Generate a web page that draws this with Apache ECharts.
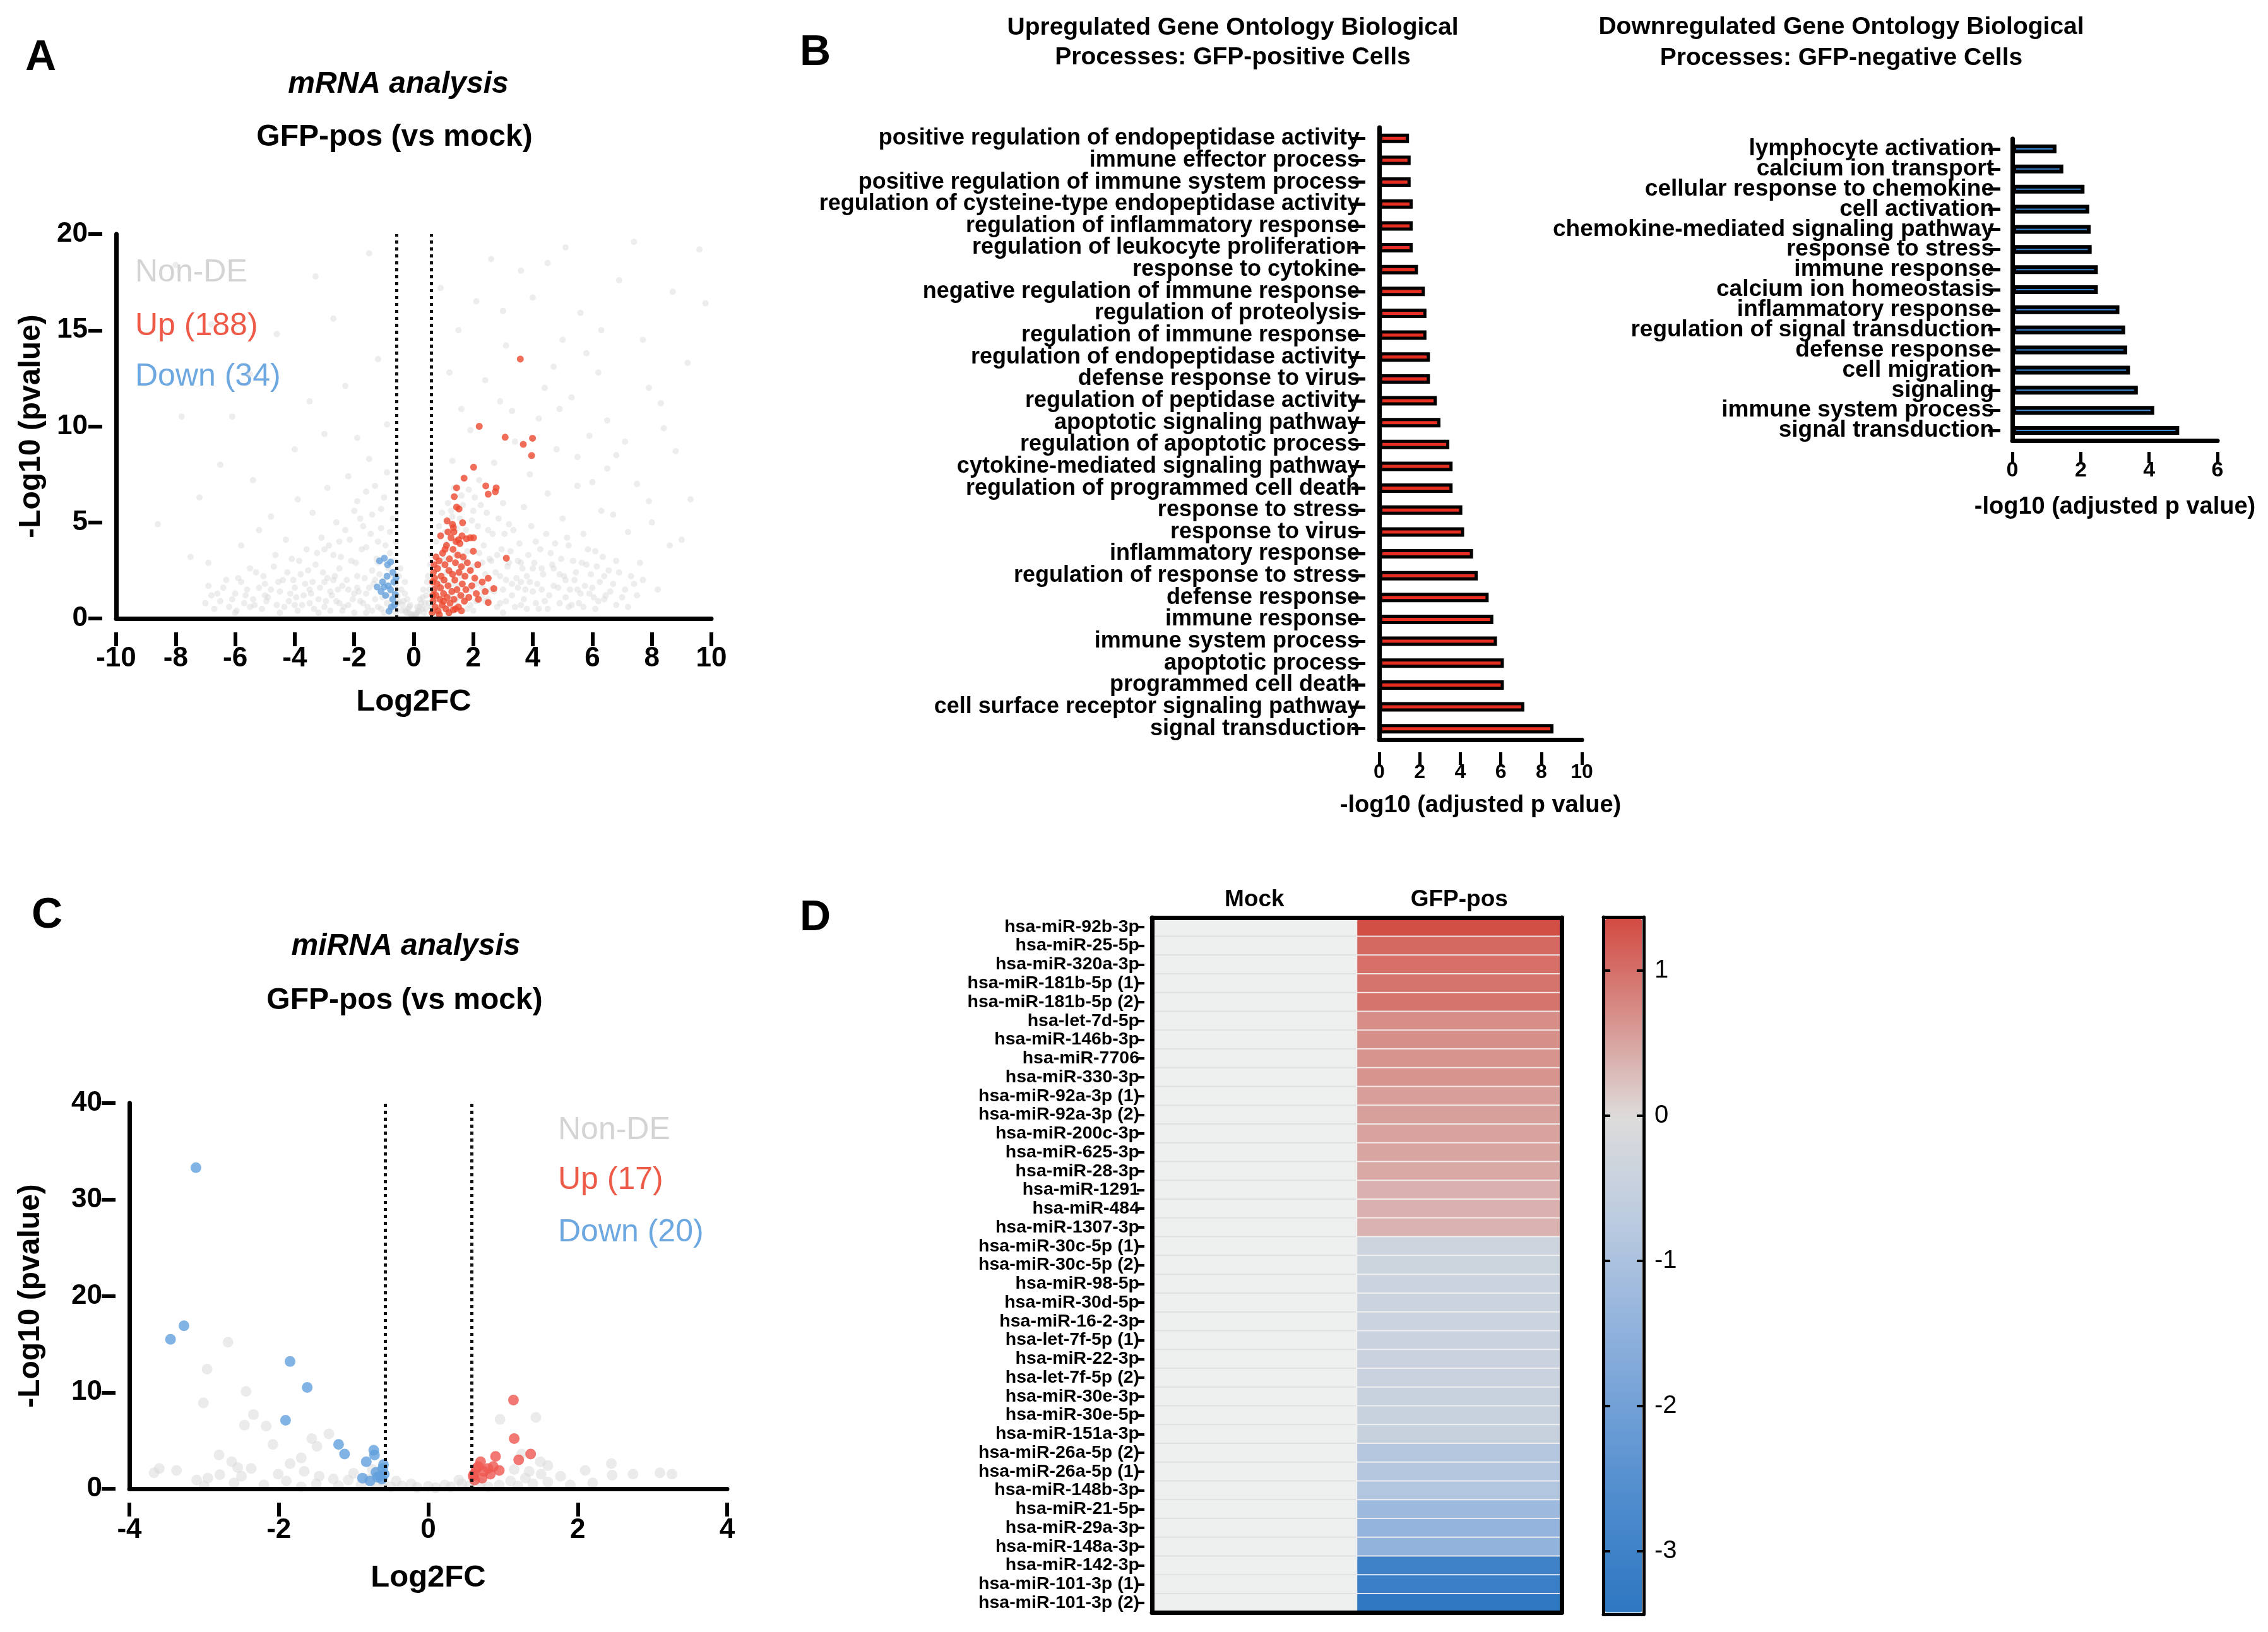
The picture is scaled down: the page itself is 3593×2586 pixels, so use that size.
<!DOCTYPE html>
<html><head><meta charset="utf-8">
<script src="https://cdn.jsdelivr.net/npm/echarts@6/dist/echarts.min.js"></script>
<style>html,body{margin:0;padding:0;background:#fff;}#c{width:3593px;height:2586px;}</style>
</head><body><div id="c"></div>
<script>
const FONT = '"Liberation Sans", Arial, Helvetica, sans-serif';

// ---------- Panel A: mRNA volcano ----------
const mrnaNonDE = [
[-6.8,1.2],[-6.5,0.9],[-6.4,1.6],[-6.2,0.6],[-6.0,1.3],[-5.9,2.1],[-5.7,0.8],[-5.6,1.5],[-5.4,1.0],[-5.3,2.4],[-5.1,0.5],[-5.0,1.8],[-4.9,1.1],[-4.7,2.7],[-4.6,0.7],[-4.5,1.4],[-4.4,2.0],[-4.2,0.9],[-4.1,3.1],[-4.0,1.6],[-3.9,0.4],[-3.8,2.3],[-3.7,1.2],[-3.6,3.6],[-3.5,0.8],[-3.4,1.9],[-3.3,2.8],[-3.2,1.0],[-3.1,4.2],[-3.0,0.6],[-2.9,2.1],[-2.8,1.4],[-2.7,3.3],[-2.6,0.9],[-2.5,2.6],[-2.4,1.7],[-2.3,4.6],[-2.2,0.7],[-2.1,3.0],[-2.0,1.3],[-1.9,2.2],[-1.8,5.2],[-1.7,0.8],[-1.6,3.7],[-1.5,1.6],[-1.4,2.5],[-1.3,1.0],[-1.2,4.0],[-1.1,0.5],[-1.0,2.0],[-0.9,1.2],[-0.8,3.4],[-0.7,0.6],[-0.6,1.8],[-0.5,0.9],[-0.45,2.6],[-0.4,0.4],[-0.3,1.3],[-0.2,0.5],[-0.1,0.2],[0.0,0.1],[0.1,0.3],[0.2,0.6],[0.3,1.1],[0.4,0.5],[0.45,1.9],[0.5,0.8],
[-7.5,3.2],[-8.6,4.9],[-6.9,2.9],[-5.8,3.8],[-5.2,4.6],[-4.8,5.3],[-4.3,4.1],[-3.9,6.2],[-3.4,5.5],[-2.9,6.8],[-2.6,5.0],[-2.2,7.4],[-1.9,6.1],[-1.5,8.3],[-1.3,6.9],[-1.1,5.7],[-0.9,7.6],[-3.0,9.6],[-5.4,7.2],[-7.2,6.3],[-6.1,10.5],[-2.3,12.1],[-4.6,14.8],[-8.0,18.4],
[0.7,0.4],[0.8,1.5],[0.9,2.8],[1.0,0.6],[1.1,3.9],[1.2,1.2],[1.3,5.3],[1.4,0.9],[1.5,2.4],[1.6,6.4],[1.7,1.1],[1.8,3.5],[1.9,0.7],[2.0,5.6],[2.1,1.8],[2.2,7.2],[2.3,2.9],[2.4,0.9],[2.5,4.6],[2.6,1.5],[2.7,8.1],[2.8,3.3],[2.9,0.8],[3.0,6.0],[3.1,2.0],[3.2,4.9],[3.3,1.2],[3.4,9.2],[3.5,3.0],[3.6,0.7],[3.7,5.8],[3.8,2.2],[3.9,7.5],[4.0,1.4],[4.1,4.0],[4.2,10.4],[4.3,2.6],[4.4,0.9],[4.5,6.5],[4.6,3.4],[4.7,1.7],[4.8,8.8],[4.9,2.3],[5.0,5.2],[5.1,1.1],[5.2,3.8],[5.3,11.5],[5.4,2.0],[5.5,6.9],[5.6,1.3],[5.7,4.4],[5.8,2.8],[5.9,9.5],[6.0,1.6],[6.1,3.5],[6.2,0.9],[6.3,5.6],[6.4,2.2],[6.5,7.8],[6.6,1.4],[6.8,3.0],[7.0,1.1],[7.2,4.5],[7.4,1.8],[7.6,2.9],[7.9,6.1],[8.2,1.5],[8.6,3.8],
[2.4,12.4],[3.1,14.2],[4.0,16.7],[4.7,13.1],[5.6,15.9],[6.2,12.8],[6.9,17.6],[7.7,14.5],[8.3,11.2],[9.2,13.3],[5.1,19.3],[7.4,19.6],[3.6,18.1],[6.5,10.3],[8.8,8.7],[9.6,19.2],[2.9,11.3],[4.4,12.0],[1.9,9.8],[1.3,8.2],[1.6,10.9],[5.8,13.8],[7.1,9.2],[8.0,5.0],[9.0,4.1],[6.7,5.4],
[-0.35,0.9],[-0.25,0.3],[-0.15,0.6],[-0.05,0.15],[0.05,0.2],[0.15,0.4],[0.25,0.8],[0.35,0.3],[-1.6,0.3],[-2.4,0.4],[-3.2,0.3],[-1.9,1.6],[-2.7,2.0],[-0.8,2.2],[-1.2,2.9],[1.2,0.3],[2.0,0.4],[3.0,0.3],[4.2,0.5],[1.5,1.7],[2.3,1.2],[1.0,2.0],[3.6,1.9],[5.2,0.6],
[-7.0,0.8],[-6.9,1.7],[-6.7,0.5],[-6.6,1.3],[-6.3,2.0],[-6.1,1.0],[-5.95,0.4],[-5.8,1.9],[-5.65,1.2],[-5.5,2.6],[-5.35,0.7],[-5.2,1.6],[-5.05,2.2],[-4.95,0.9],[-4.8,1.5],[-4.65,3.3],[-4.55,1.9],[-4.35,0.6],[-4.25,2.4],[-4.15,1.3],[-4.05,2.0],[-3.95,1.1],[-3.85,3.0],[-3.75,0.7],[-3.65,1.8],[-3.55,2.5],[-3.45,1.3],[-3.35,0.5],[-3.25,3.4],[-3.15,1.6],[-3.05,2.4],[-2.95,0.9],[-2.85,3.8],[-2.75,1.2],[-2.65,2.2],[-2.55,1.5],[-2.45,3.2],[-2.35,0.6],[-2.25,2.0],[-2.15,4.1],[-2.05,1.0],[-1.95,2.9],[-1.85,1.4],[-1.75,3.6],[-1.65,2.1],[-1.55,0.6],[-1.45,4.4],[-1.35,1.8],[-1.25,3.1],[-1.15,2.3],[-1.05,1.1],[-0.95,3.8],[-0.85,2.6],[-0.75,1.4],[-0.65,3.0],[-0.55,1.2],[-0.5,2.2],[-0.42,1.5],[-0.38,0.7],[-0.3,1.9],[-0.28,0.4],[-0.22,1.0],[-0.18,0.3],[-0.12,0.7],[-0.08,0.25],
[-2.0,5.6],[-1.7,4.8],[-1.4,5.4],[-1.1,4.7],[-0.8,4.5],[-0.6,4.0],[-2.5,4.0],[-3.0,3.6],[-1.0,6.3],[-1.6,6.6],[-0.7,5.2],
[0.08,0.2],[0.12,0.6],[0.18,0.35],[0.22,1.0],[0.28,0.5],[0.32,1.5],[0.38,0.8],[0.42,1.2],[0.48,2.2],[0.52,1.5],[0.55,2.8],[0.58,0.6],
[0.6,3.3],[0.75,4.0],[0.85,4.8],[0.95,5.5],[1.05,4.5],[1.15,6.0],[1.25,5.6],[1.35,6.8],[1.45,4.7],[1.55,5.2],[1.65,5.9],[1.75,4.6],[1.85,6.7],[1.95,5.1],[2.05,6.3],[2.15,4.8],[2.25,5.9],[2.35,3.8],[2.45,5.5],[2.55,3.1],[2.65,4.4],[2.75,2.4],[2.85,5.2],[2.95,3.6],[3.05,4.4],[3.15,2.7],[3.25,3.5],[3.35,4.6],[3.45,2.1],[3.55,3.9],[3.65,2.6],[3.75,1.5],[3.85,3.3],[3.95,4.8],[4.05,2.9],[4.15,1.8],[4.25,3.6],[4.35,2.3],[4.45,4.4],[4.55,1.2],[4.65,2.8],[4.75,3.9],[4.85,1.6],[4.95,3.1],[5.05,2.2],[5.15,4.2],[5.25,1.5],[5.35,3.0],[5.45,2.4],[5.55,0.8],[5.65,2.9],[5.75,1.7],[5.85,3.6],[5.95,2.3],[6.05,1.1],[6.15,2.7],[6.25,1.9],[6.35,3.2],[6.45,1.2],[6.55,2.5],[6.7,1.8],[6.9,2.4],[7.1,1.5],[7.3,2.2],[7.5,1.2],[7.7,2.0],
[0.7,1.0],[0.8,0.3],[0.9,1.9],[1.0,3.1],[1.1,2.4],[1.2,0.6],[1.3,1.8],[1.4,3.3],[1.5,1.1],[1.6,2.2],[1.7,3.0],[1.8,0.5],[1.9,1.5],[2.0,2.7],[2.1,0.9],[2.2,3.4],[2.3,1.6],[2.4,2.3],[2.5,1.0],[2.6,3.0],[2.7,1.4],[2.8,0.6],[2.9,2.2],[3.0,1.5],[3.1,0.9],[3.2,2.9],[3.3,1.8],[3.4,0.6],[3.5,1.6],[3.6,2.9],[3.7,1.0],[3.8,0.5],[3.9,1.9],[4.0,2.6],[4.1,0.8],[4.3,1.5],[4.5,0.5],[4.7,2.6],[4.9,0.8],[5.1,2.0],[5.3,0.7],[5.5,1.5],[5.7,0.6],[5.9,1.3],[6.1,0.5],[6.4,1.0],[6.8,0.7],[7.2,0.6],
[-6.0,0.3],[-5.5,0.6],[-5.0,1.2],[-4.5,0.3],[-4.0,0.7],[-3.5,1.5],[-3.0,1.9],[-2.8,0.4],[-2.5,0.8],[-2.2,1.5],[-2.0,0.3],[-1.8,0.9],[-1.6,1.3],[-1.4,0.4],[-1.3,2.0],[-1.2,0.6],[-1.0,0.3],[-0.9,0.8],[-0.8,0.5],[-0.7,1.1],[-0.6,0.3],[-0.55,0.8],
[-4.0,8.8],[-3.5,11.3],[-1.9,9.4],[-6.5,8.0],[-7.8,10.5],[-5.5,12.7],[-0.9,10.1],[-1.2,13.5],[-2.7,15.6],[-6.8,15.3],[-3.3,17.8],[-1.5,19.0],[1.2,12.8],[1.5,15.0],[2.1,16.5],[2.6,18.7],[0.9,17.2],[3.3,10.8],[4.9,10.9],[5.5,8.4],[6.0,7.1],[6.8,8.5],[7.5,7.0],[8.4,9.9],[9.3,6.2],[9.8,16.4],[8.7,17.0],[7.9,12.0],[6.3,15.0],[4.5,18.5],[3.0,16.0],[5.0,14.5]
];
const mrnaUp = [
[3.58,13.5],[2.2,10.0],[3.07,9.43],[3.68,9.06],[3.99,9.38],[3.96,8.48],[2.01,7.87],[1.69,7.3],[1.44,6.8],[1.36,6.34],[2.42,6.9],[2.5,6.47],[2.77,6.8],[2.74,6.6],[1.44,5.8],[1.52,5.7],[1.12,5.08],[1.64,4.98],[1.33,4.73],[3.11,3.14],[2.01,4.2],[1.77,4.15],[2.5,2.09],[2.69,1.56],[2.17,1.0],[2.5,0.83],[1.33,0.45],
[0.62,0.3],[0.65,0.9],[0.68,1.5],[0.7,2.1],[0.66,2.4],[0.72,0.6],[0.75,1.2],[0.78,1.8],[0.8,2.6],[0.82,0.4],[0.85,3.0],[0.88,1.0],[0.9,1.6],[0.92,2.2],[0.95,0.7],[0.97,3.4],[1.0,1.3],[1.02,2.0],[1.05,2.8],[1.08,0.5],[1.1,3.8],[1.12,1.1],[1.15,1.7],[1.18,2.5],[1.2,3.1],[1.22,0.8],[1.25,4.2],[1.28,1.4],[1.3,2.3],[1.32,3.6],[1.35,1.0],[1.38,2.0],[1.4,2.9],[1.42,4.0],[1.45,1.5],[1.48,3.3],[1.5,0.6],[1.52,2.4],[1.55,3.9],[1.58,1.2],[1.6,2.7],[1.63,1.8],[1.66,3.2],[1.7,0.9],[1.72,2.2],[1.75,1.5],[1.8,2.9],[1.85,1.1],[1.9,2.5],[1.95,1.7],[2.0,3.5],[2.05,2.1],[2.1,1.3],[2.15,2.8],[2.3,1.9],[2.4,1.4],[0.9,4.3],[1.05,3.6],[1.15,4.5],[1.3,4.9],[0.75,3.2],[0.68,2.8],[0.63,1.9],[0.64,1.2],[0.86,0.2],[1.0,0.9],[1.18,0.3],[1.4,0.5],[1.6,0.4],[1.35,4.5],[1.5,4.1],[1.62,4.3],[1.9,4.2]
];
const mrnaDown = [
[-1.15,3.0],[-0.99,3.14],[-0.78,2.94],[-0.88,2.8],[-1.23,1.64],[-0.99,1.64],[-0.78,1.5],[-0.67,1.9],[-0.71,1.0],[-0.83,0.38],[-0.62,1.26],[-0.9,2.2],[-1.05,1.9],[-0.7,2.4],[-0.65,0.7],[-0.75,0.6],[-0.95,1.2],[-1.1,1.4],[-0.6,2.1],[-0.86,1.7]
];
const foldThreshold = [-0.585, 0.585];
const mrnaLegend = ['Non-DE', 'Up (188)', 'Down (34)'];

// ---------- Panel B: GO terms ----------
const upTerms = ['positive regulation of endopeptidase activity','immune effector process','positive regulation of immune system process','regulation of cysteine-type endopeptidase activity','regulation of inflammatory response','regulation of leukocyte proliferation','response to cytokine','negative regulation of immune response','regulation of proteolysis','regulation of immune response','regulation of endopeptidase activity','defense response to virus','regulation of peptidase activity','apoptotic signaling pathway','regulation of apoptotic process','cytokine-mediated signaling pathway','regulation of programmed cell death','response to stress','response to virus','inflammatory response','regulation of response to stress','defense response','immune response','immune system process','apoptotic process','programmed cell death','cell surface receptor signaling pathway','signal transduction'];
const upValues = [1.47,1.55,1.55,1.65,1.65,1.65,1.91,2.25,2.33,2.33,2.5,2.5,2.84,3.02,3.46,3.62,3.62,4.1,4.19,4.63,4.86,5.4,5.63,5.81,6.15,6.15,7.16,8.6];
const downTerms = ['lymphocyte activation','calcium ion transport','cellular response to chemokine','cell activation','chemokine-mediated signaling pathway','response to stress','immune response','calcium ion homeostasis','inflammatory response','regulation of signal transduction','defense response','cell migration','signaling','immune system process','signal transduction'];
const downValues = [1.29,1.49,2.11,2.25,2.29,2.32,2.5,2.5,3.13,3.3,3.36,3.44,3.67,4.15,4.88];

// ---------- Panel C: miRNA volcano ----------
const mirnaNonDE = [
[-2.68,15.2],[-2.96,12.4],[-2.44,10.1],[-3.01,8.9],[-2.34,7.7],[-2.46,6.6],[-2.17,6.5],[-1.33,5.7],[-1.56,5.2],[-1.49,4.4],[-2.08,4.6],[0.96,7.2],[1.44,7.4],[1.5,2.8],[-3.6,2.1],[-3.37,1.9],[-3.67,1.65],[-2.95,1.1],[-2.79,1.45],[-2.63,2.8],[-2.01,1.5],[-2.5,1.3],[-2.37,2.1],[-1.85,2.6],[-1.66,1.8],[-1.46,1.3],[-1.27,1.0],[-1.07,0.9],[-0.43,0.8],[-0.23,0.5],[0,0.25],[0.22,0.4],[0.41,0.9],[1.51,1.5],[1.77,1.3],[2.1,1.9],[2.45,2.6],[2.46,1.4],[2.74,1.5],[3.1,1.65],[3.26,1.5],
[-0.9,0.4],[-0.8,1.0],[-0.7,0.3],[-0.6,0.7],[-0.5,0.2],[-0.35,0.3],[-0.15,0.15],[0.1,0.1],[0.3,0.2],[0.45,0.5],[0.55,0.3],[0.7,0.6],[0.8,0.2],[0.95,0.4],[1.1,0.8],[1.2,0.3],[1.3,1.1],[1.4,0.5],[1.6,0.7],[1.9,0.4],[2.2,0.6],[-1.2,0.3],[-1.5,0.5],[-1.7,0.2],[-1.9,0.8],[-2.2,0.4],[-2.6,0.6],[-3.0,0.3],[-1.0,1.6],[-0.75,2.0],[1.15,2.0],[1.35,1.8],[-1.7,3.2],[1.25,3.6],[1.6,2.4],[-2.8,3.5],[-2.55,2.2],[-3.1,0.9]
];
const mirnaUp = [[1.14,9.2],[1.15,5.2],[1.37,3.6],[1.21,3.0],[0.9,3.35],[0.7,2.8],[0.64,2.1],[0.61,1.5],[0.8,2.1],[0.87,2.3],[0.6,1.3],[0.74,1.8],[0.83,1.5],[0.67,2.3],[0.72,1.1],[0.95,1.9],[0.62,0.9]];
const mirnaDown = [[-3.11,33.3],[-3.27,16.9],[-3.45,15.5],[-1.85,13.2],[-1.62,10.5],[-1.91,7.1],[-1.2,4.6],[-1.12,3.6],[-0.73,4.0],[-0.72,3.5],[-0.83,2.8],[-0.61,2.1],[-0.59,1.5],[-0.65,1.3],[-0.88,1.1],[-0.7,1.7],[-0.62,1.0],[-0.78,0.8],[-0.6,2.5],[-0.68,1.2]];
const mirnaLegend = ['Non-DE', 'Up (17)', 'Down (20)'];

// ---------- Panel D: heatmap ----------
const heatColumns = ['Mock', 'GFP-pos'];
const mirnaNames = ['hsa-miR-92b-3p','hsa-miR-25-5p','hsa-miR-320a-3p','hsa-miR-181b-5p (1)','hsa-miR-181b-5p (2)','hsa-let-7d-5p','hsa-miR-146b-3p','hsa-miR-7706','hsa-miR-330-3p','hsa-miR-92a-3p (1)','hsa-miR-92a-3p (2)','hsa-miR-200c-3p','hsa-miR-625-3p','hsa-miR-28-3p','hsa-miR-1291','hsa-miR-484','hsa-miR-1307-3p','hsa-miR-30c-5p (1)','hsa-miR-30c-5p (2)','hsa-miR-98-5p','hsa-miR-30d-5p','hsa-miR-16-2-3p','hsa-let-7f-5p (1)','hsa-miR-22-3p','hsa-let-7f-5p (2)','hsa-miR-30e-3p','hsa-miR-30e-5p','hsa-miR-151a-3p','hsa-miR-26a-5p (2)','hsa-miR-26a-5p (1)','hsa-miR-148b-3p','hsa-miR-21-5p','hsa-miR-29a-3p','hsa-miR-148a-3p','hsa-miR-142-3p','hsa-miR-101-3p (1)','hsa-miR-101-3p (2)'];
const mockValues = mirnaNames.map(() => 0);
const gfpValues = [1.33,1.08,1.02,0.97,0.97,0.72,0.7,0.66,0.66,0.56,0.55,0.52,0.5,0.46,0.39,0.39,0.37,-0.33,-0.36,-0.38,-0.4,-0.4,-0.43,-0.43,-0.43,-0.45,-0.45,-0.47,-0.85,-0.85,-0.88,-1.25,-1.4,-1.45,-3.0,-3.15,-3.4];
const colorRange = [-3.435, 1.37];
const colorStops = ['#2e77c1','#4a89cc','#6f9fd6','#96b5dd','#bdcce0','#dddcdb','#d7918c','#d24b42'];

// ---------- helpers ----------
const BLACK = '#000';
function axisLine(w){ return {show:true, onZero:false, lineStyle:{color:BLACK, width:w}}; }
function inTicks(len, w, align){ return {show:true, inside:true, length:len, alignWithLabel:!!align, lineStyle:{width:w, color:BLACK}}; }
function tickLab(size, margin){ return {show:true, fontSize:size, fontWeight:'bold', color:BLACK, fontFamily:FONT, margin:margin}; }
function nameStyle(size){ return {fontSize:size, fontWeight:'bold', color:BLACK, fontFamily:FONT}; }
function off(){ return {show:false}; }
function txt(text, x, y, font, fill, align){
  return {type:'text', x:x, y:y, silent:true, style:{text:text, font:font, fill:fill||BLACK, textAlign:align||'center', textVerticalAlign:'middle', align:align||'center', verticalAlign:'middle'}};
}
function dotted(){ return {silent:true, symbol:['none','none'], label:{show:false}, lineStyle:{type:[5,6], width:5, color:'#111'}, data: foldThreshold.map(v => ({xAxis:v}))}; }
// Tick strips: a thin grid just outside each main axis whose axis draws its ticks "inside" (i.e. outward from the main plot).
function tickX(g, base, len, w){ return Object.assign({gridIndex:g, position:'top', z:10, axisLine:off(), axisLabel:off(), splitLine:off(), axisTick:inTicks(len, w, base.type==='category')}, base); }
function tickY(g, base, len, w){ return Object.assign({gridIndex:g, position:'right', z:10, axisLine:off(), axisLabel:off(), splitLine:off(), axisTick:inTicks(len, w, base.type==='category')}, base); }
function dummy(g){ return {gridIndex:g, type:'value', show:false, min:0, max:1}; }

const chart = echarts.init(document.getElementById('c'), null, {renderer:'canvas'});
const option = {
  animation:false,
  grid:[
    {left:184, top:371, width:943, height:609},
    {left:2185, top:202, width:321, height:970},
    {left:3188, top:220, width:325, height:478},
    {left:205, top:1748, width:947, height:611},
    {left:1825, top:1454, width:649, height:1101},
    {left:2540, top:1453, width:64, height:1105},
    // tick strips
    {left:184, top:980, width:943, height:22},
    {left:162, top:371, width:22, height:609},
    {left:2185, top:1172, width:321, height:20},
    {left:2163, top:202, width:22, height:970},
    {left:3188, top:698, width:325, height:18},
    {left:3169, top:220, width:19, height:478},
    {left:205, top:2359, width:947, height:22},
    {left:183, top:1748, width:22, height:611},
    {left:1813, top:1454, width:12, height:1101}
  ],
  xAxis:[
    {gridIndex:0, z:10, type:'value', min:-10, max:10, interval:2, axisLine:axisLine(7), axisTick:off(), axisLabel:tickLab(44, 42), splitLine:off(), name:'Log2FC', nameLocation:'middle', nameGap:108, nameTextStyle:nameStyle(49)},
    {gridIndex:1, z:10, type:'value', min:0, max:10, interval:2, axisLine:axisLine(7), axisTick:off(), axisLabel:tickLab(32, 36), splitLine:off(), name:'-log10 (adjusted p value)', nameLocation:'middle', nameGap:86, nameTextStyle:nameStyle(38)},
    {gridIndex:2, z:10, type:'value', min:0, max:6, interval:2, axisLine:axisLine(7), axisTick:off(), axisLabel:tickLab(34, 31), splitLine:off(), name:'-log10 (adjusted p value)', nameLocation:'middle', nameGap:87, nameTextStyle:nameStyle(38)},
    {gridIndex:3, z:10, type:'value', min:-4, max:4, interval:2, axisLine:axisLine(7), axisTick:off(), axisLabel:tickLab(44, 44), splitLine:off(), name:'Log2FC', nameLocation:'middle', nameGap:117, nameTextStyle:nameStyle(49)},
    {gridIndex:4, z:10, type:'category', data:heatColumns, position:'top', axisLine:axisLine(7), axisTick:off(), axisLabel:{fontSize:37, fontWeight:'bold', color:BLACK, fontFamily:FONT, margin:10, interval:0}, splitLine:off()},
    {gridIndex:4, z:10, type:'value', min:0, max:1, position:'bottom', axisLine:axisLine(7), axisTick:off(), axisLabel:off(), splitLine:off()},
    {gridIndex:5, z:10, type:'value', min:0, max:1, position:'top', axisLine:axisLine(5), axisTick:off(), axisLabel:off(), splitLine:off()},
    {gridIndex:5, z:10, type:'value', min:0, max:1, position:'bottom', axisLine:axisLine(5), axisTick:off(), axisLabel:off(), splitLine:off()},
    tickX(6, {type:'value', min:-10, max:10, interval:2}, 22, 6),
    dummy(7),
    tickX(8, {type:'value', min:0, max:10, interval:2}, 20, 5),
    dummy(9),
    tickX(10, {type:'value', min:0, max:6, interval:2}, 18, 5),
    dummy(11),
    tickX(12, {type:'value', min:-4, max:4, interval:2}, 22, 6),
    dummy(13),
    dummy(14)
  ],
  yAxis:[
    {gridIndex:0, z:10, type:'value', min:0, max:20, interval:5, axisLine:axisLine(7), axisTick:off(), axisLabel:tickLab(44, 45), splitLine:off(), name:'-Log10 (pvalue)', nameLocation:'middle', nameGap:110, nameRotate:90, nameTextStyle:nameStyle(48)},
    {gridIndex:1, z:10, type:'category', data:upTerms, inverse:true, axisLine:axisLine(7), axisTick:off(), axisLabel:{fontSize:36, fontWeight:'bold', color:BLACK, fontFamily:FONT, margin:31, interval:0}, splitLine:off()},
    {gridIndex:2, z:10, type:'category', data:downTerms, inverse:true, axisLine:axisLine(7), axisTick:off(), axisLabel:{fontSize:37, fontWeight:'bold', color:BLACK, fontFamily:FONT, margin:29, interval:0}, splitLine:off()},
    {gridIndex:3, z:10, type:'value', min:0, max:40, interval:10, axisLine:axisLine(7), axisTick:off(), axisLabel:tickLab(44, 43), splitLine:off(), name:'-Log10 (pvalue)', nameLocation:'middle', nameGap:132, nameRotate:90, nameTextStyle:nameStyle(48)},
    {gridIndex:4, z:10, type:'category', data:mirnaNames, inverse:true, axisLine:axisLine(7), axisTick:off(), axisLabel:{fontSize:28.5, fontWeight:'bold', color:BLACK, fontFamily:FONT, margin:20, interval:0}, splitLine:off()},
    {gridIndex:4, z:10, type:'value', min:0, max:1, position:'right', axisLine:axisLine(7), axisTick:off(), axisLabel:off(), splitLine:off()},
    {gridIndex:5, z:10, type:'value', min:colorRange[0], max:colorRange[1], position:'left', axisLine:axisLine(5), axisTick:inTicks(11,4), axisLabel:off(), splitLine:off()},
    {gridIndex:5, z:10, type:'value', min:colorRange[0], max:colorRange[1], position:'right', axisLine:axisLine(5), axisTick:inTicks(11,4), axisLabel:{fontSize:40, color:BLACK, fontFamily:FONT, margin:17, formatter:function(v){return Number.isInteger(v)?String(v):'';}}, splitLine:off()},
    dummy(6),
    tickY(7, {type:'value', min:0, max:20, interval:5}, 22, 6),
    dummy(8),
    tickY(9, {type:'category', data:upTerms, inverse:true}, 22, 5),
    dummy(10),
    tickY(11, {type:'category', data:downTerms, inverse:true}, 19, 5),
    dummy(12),
    tickY(13, {type:'value', min:0, max:40, interval:10}, 22, 6),
    tickY(14, {type:'category', data:mirnaNames, inverse:true}, 12, 4)
  ],
  visualMap:[{
    type:'continuous', seriesIndex:9, min:colorRange[0], max:colorRange[1], orient:'vertical',
    left:2543, top:1456, itemWidth:58, itemHeight:1099, padding:0, calculable:false, hoverLink:false,
    text:null, showLabel:false, inRange:{color:colorStops}
  }],
  series:[
    {type:'scatter', name:mrnaLegend[0], xAxisIndex:0, yAxisIndex:0, data:mrnaNonDE, symbolSize:10, itemStyle:{color:'#d6d6d6', opacity:0.45}, markLine:dotted(), z:2},
    {type:'scatter', name:mrnaLegend[2], xAxisIndex:0, yAxisIndex:0, data:mrnaDown, symbolSize:11, itemStyle:{color:'#68a3dd'}, z:3},
    {type:'scatter', name:mrnaLegend[1], xAxisIndex:0, yAxisIndex:0, data:mrnaUp, symbolSize:11, itemStyle:{color:'#ec4a30'}, z:3},
    {type:'bar', xAxisIndex:1, yAxisIndex:1, data:upValues, barWidth:15, itemStyle:{color:'#e62e22', borderColor:BLACK, borderWidth:5}},
    {type:'bar', xAxisIndex:2, yAxisIndex:2, data:downValues, barWidth:14, itemStyle:{color:'#3d86d3', borderColor:BLACK, borderWidth:6}},
    {type:'scatter', name:mirnaLegend[0], xAxisIndex:3, yAxisIndex:3, data:mirnaNonDE, symbolSize:17, itemStyle:{color:'#d8d8d8', opacity:0.5}, markLine:dotted(), z:2},
    {type:'scatter', name:mirnaLegend[2], xAxisIndex:3, yAxisIndex:3, data:mirnaDown, symbolSize:17, itemStyle:{color:'#62a0dd'}, z:3},
    {type:'scatter', name:mirnaLegend[1], xAxisIndex:3, yAxisIndex:3, data:mirnaUp, symbolSize:17, itemStyle:{color:'#ef5750'}, z:3},
    {type:'heatmap', xAxisIndex:4, yAxisIndex:4, data:mockValues.map((v,i)=>[0,i,v]), itemStyle:{color:'#eef0ef', borderColor:'#dfe1e1', borderWidth:2}},
    {type:'heatmap', xAxisIndex:4, yAxisIndex:4, data:gfpValues.map((v,i)=>[1,i,v]), itemStyle:{borderColor:'rgba(245,242,242,0.85)', borderWidth:2}}
  ],
  graphic:[
    txt('A', 40, 92, 'bold 68px '+FONT, BLACK, 'left'),
    txt('B', 1267, 84, 'bold 68px '+FONT, BLACK, 'left'),
    txt('C', 50, 1451, 'bold 68px '+FONT, BLACK, 'left'),
    txt('D', 1267, 1455, 'bold 68px '+FONT, BLACK, 'left'),
    txt('mRNA analysis', 631, 134, 'italic bold 48px '+FONT),
    txt('GFP-pos (vs mock)', 625, 218, 'bold 48px '+FONT),
    txt(mrnaLegend[0], 214, 432, '50px '+FONT, '#d4d4d4', 'left'),
    txt(mrnaLegend[1], 214, 517, '50px '+FONT, '#ee5a48', 'left'),
    txt(mrnaLegend[2], 214, 597, '50px '+FONT, '#6ea8e0', 'left'),
    txt('Upregulated Gene Ontology Biological', 1953, 44, 'bold 39px '+FONT),
    txt('Processes: GFP-positive Cells', 1953, 91, 'bold 39px '+FONT),
    txt('Downregulated Gene Ontology Biological', 2917, 43, 'bold 39px '+FONT),
    txt('Processes: GFP-negative Cells', 2917, 92, 'bold 39px '+FONT),
    txt('miRNA analysis', 643, 1500, 'italic bold 48px '+FONT),
    txt('GFP-pos (vs mock)', 641, 1586, 'bold 48px '+FONT),
    txt(mirnaLegend[0], 884, 1791, '50px '+FONT, '#d4d4d4', 'left'),
    txt(mirnaLegend[1], 884, 1870, '50px '+FONT, '#ee5a48', 'left'),
    txt(mirnaLegend[2], 884, 1953, '50px '+FONT, '#6ea8e0', 'left')
  ]
};
chart.setOption(option);
</script></body></html>
